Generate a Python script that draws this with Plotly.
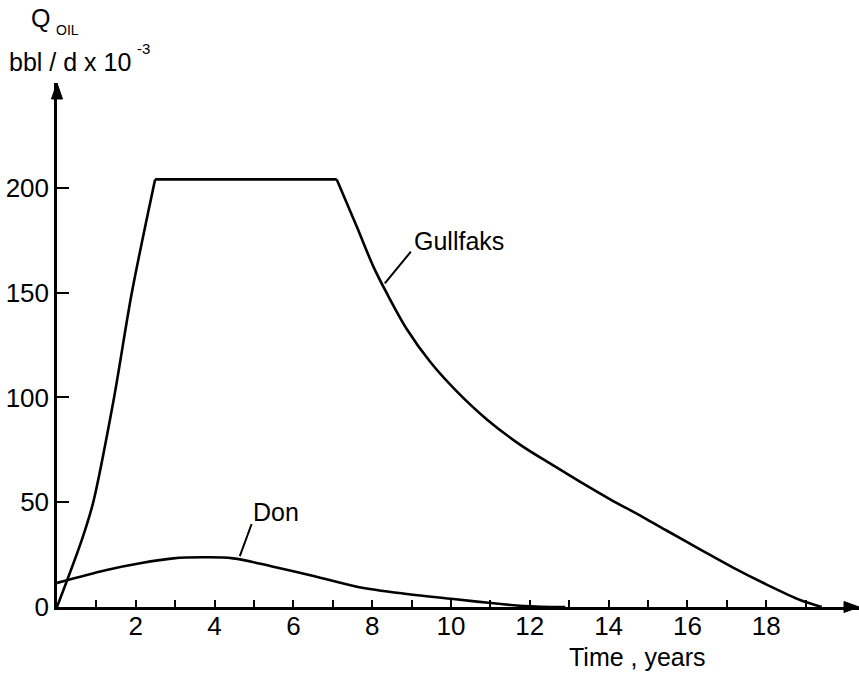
import plotly.graph_objects as go

# ---- data ----
gullfaks_years = [0, 0.63, 0.92, 1.43, 1.90, 2.49, 7.10, 7.61, 8.03, 8.37, 8.88, 9.47,
                  10.14, 10.91, 11.75, 12.60, 13.27, 14.04, 14.88, 15.47, 16.32,
                  17.16, 18.01, 18.86, 19.41]
gullfaks_q = [0, 32, 50, 98, 150, 204, 204, 181.4, 162.4, 149.7, 132.5, 117.0,
              103.0, 89.5, 77.5, 67.5, 59.8, 51.4, 42.8, 36.5, 27.5,
              18.8, 10.7, 3.3, 0]

don_years = [0, 1.26, 2.11, 2.95, 3.71, 4.47, 5.49, 6.51, 7.61, 8.88, 10.06, 10.95, 11.84, 12.9]
don_q = [11.5, 17.7, 20.9, 23.2, 23.7, 23.2, 19.2, 14.8, 9.7, 6.2, 3.8, 2.0, 0.5, 0]

x_tickvals = list(range(1, 20))
x_ticktext = [str(v) if v % 2 == 0 else "" for v in x_tickvals]
y_tickvals = [0, 50, 100, 150, 200]
y_ticktext = ["0", "50", "100", "150", "200"]

FONT = "Liberation Sans"
W, H = 859, 675
ML, MT, MB, MR = 57, 83, 68, 0
PW, PH = W - ML - MR, H - MT - MB
X_MAX = 20.355
Y_MAX = 250

LINE = dict(color="black", width=2.6)

fig = go.Figure()
# Gullfaks: rise (smooth), plateau (straight), decline (smooth)
segments = [(0, 6, "spline"), (5, 7, "linear"), (6, len(gullfaks_years), "spline")]
for a, b, shp in segments:
    fig.add_trace(go.Scatter(x=gullfaks_years[a:b], y=gullfaks_q[a:b], mode="lines",
                             line=dict(LINE, shape=shp, smoothing=0.9 if shp == "spline" else None),
                             showlegend=False, hoverinfo="skip"))
fig.add_trace(go.Scatter(x=don_years, y=don_q, mode="lines",
                         line=dict(LINE, shape="spline", smoothing=1.0),
                         showlegend=False, hoverinfo="skip"))

def px2paper(px, py):
    return (px - ML) / PW, (H - MB - py) / PH

def tri(points):
    pts = [px2paper(*p) for p in points]
    return "M " + " L ".join(f"{a:.5f},{b:.5f}" for a, b in pts) + " Z"

shapes = [
    dict(type="path", xref="paper", yref="paper",
         path=tri([(844, 601.5), (859, 607), (844, 612.5)]),
         fillcolor="black", line=dict(color="black", width=1)),
    dict(type="path", xref="paper", yref="paper",
         path=tri([(51.5, 99), (57, 83), (62.5, 99)]),
         fillcolor="black", line=dict(color="black", width=1)),
    # leader lines
    dict(type="line", xref="x", yref="y", x0=8.98, y0=169.5, x1=8.32, y1=154.4,
         line=dict(color="black", width=2)),
    dict(type="line", xref="x", yref="y", x0=4.94, y0=39.6, x1=4.64, y1=24.3,
         line=dict(color="black", width=2)),
]

def ann(text, px, py, size, xanchor="center"):
    x, y = px2paper(px, py)
    return dict(text=text, x=x, y=y, xref="paper", yref="paper", showarrow=False,
                xanchor=xanchor, yanchor="middle",
                font=dict(size=size, family=FONT, color="black"))

annotations = [
    ann("Gullfaks", 412, 241, 25, "left"),
    ann("Don", 251, 512, 25, "left"),
    ann("Time , years", 637, 657, 25),
    ann("Q", 40, 18, 25),
    ann("OIL", 67, 30, 14),
    ann("bbl / d x 10", 70, 62, 25),
    ann("-3", 143, 49, 15),
]

fig.update_layout(
    width=W, height=H,
    margin=dict(l=ML, r=MR, t=MT, b=MB, pad=0),
    paper_bgcolor="white", plot_bgcolor="white",
    shapes=shapes, annotations=annotations,
    xaxis=dict(range=[0, X_MAX], showgrid=False, zeroline=False, showline=True,
               linecolor="black", linewidth=2.5, ticks="inside", ticklen=7,
               tickwidth=2, tickcolor="black", tickvals=x_tickvals, ticktext=x_ticktext,
               ticklabelstandoff=-6,
               tickfont=dict(size=26, family=FONT, color="black"), fixedrange=True),
    yaxis=dict(range=[0, Y_MAX], showgrid=False, zeroline=False, showline=True,
               linecolor="black", linewidth=2.5, ticks="inside", ticklen=12,
               tickwidth=2, tickcolor="black", tickvals=y_tickvals, ticktext=y_ticktext,
               tickfont=dict(size=26, family=FONT, color="black"), fixedrange=True),
)

fig.write_html("out.html")
